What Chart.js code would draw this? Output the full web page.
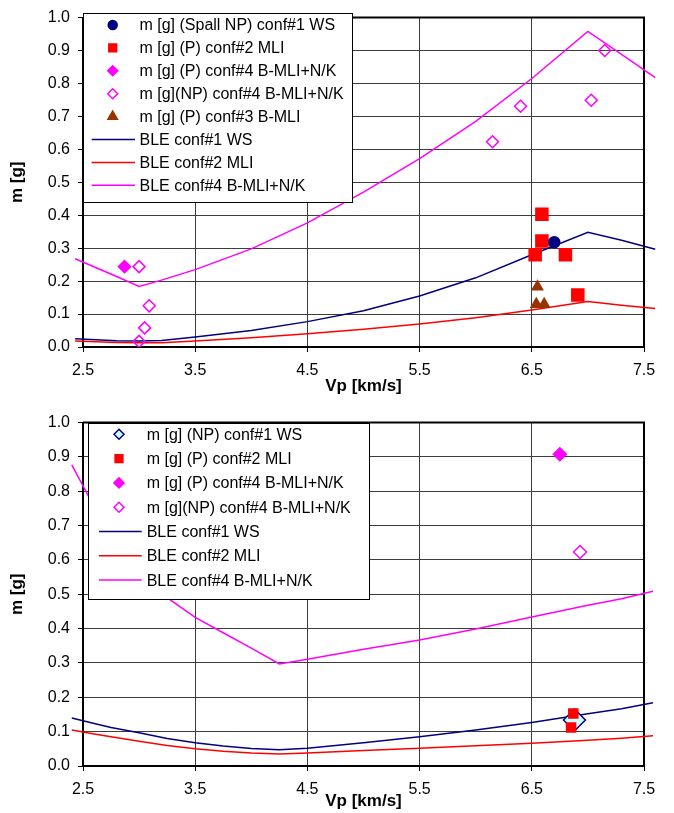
<!DOCTYPE html>
<html>
<head>
<meta charset="utf-8">
<script src="https://cdn.jsdelivr.net/npm/chart.js@4.4.0/dist/chart.umd.min.js"></script>
<style>
  html, body { margin: 0; padding: 0; background: #fff; }
  #wrap { position: relative; width: 674px; height: 813px; }
  canvas { position: absolute; left: 0; }
  #top { top: 0; }
  #bottom { top: 405px; }
</style>
</head>
<body>
<div id="wrap">
  <canvas id="top" width="674" height="405"></canvas>
  <canvas id="bottom" width="674" height="408"></canvas>
</div>
<script>
const xTicks = [2.5, 3.5, 4.5, 5.5, 6.5, 7.5];
const yTicks = [0, 0.1, 0.2, 0.3, 0.4, 0.5, 0.6, 0.7, 0.8, 0.9, 1.0];

// upper chart - measured points
const topSpallVp = [6.70];
const topSpallM = [0.318];
const topMliVp = [6.59, 6.59, 6.53, 6.80, 6.91];
const topMliM = [0.403, 0.322, 0.280, 0.280, 0.158];
const topNkPVp = [2.87];
const topNkPM = [0.244];
const topNkNpVp = [3.00, 3.09, 3.05, 3.00, 6.15, 6.40, 7.03, 7.15];
const topNkNpM = [0.244, 0.125, 0.058, 0.017, 0.623, 0.731, 0.749, 0.900];
const topBmliVp = [6.55, 6.54, 6.61];
const topBmliM = [0.183, 0.130, 0.130];

// upper chart - ballistic limit curves (run a bit past both axis ends, like the original)
const topBleVp = [2.43, 2.8, 3.0, 3.2, 3.5, 4.0, 4.5, 5.0, 5.5, 6.0, 6.5, 7.0, 7.3, 7.6];
const topBleWs = [0.025, 0.019, 0.018, 0.020, 0.030, 0.050, 0.077, 0.110, 0.155, 0.210, 0.280, 0.348, 0.324, 0.297];
const topBleMli = [0.018, 0.014, 0.013, 0.013, 0.018, 0.028, 0.040, 0.054, 0.070, 0.089, 0.112, 0.138, 0.127, 0.117];
const topBleNk = [0.268, 0.214, 0.184, 0.203, 0.235, 0.298, 0.377, 0.470, 0.572, 0.685, 0.815, 0.958, 0.888, 0.818];

// lower chart - measured points
const botWsVp = [6.88];
const botWsM = [0.134];
const botMliVp = [6.87, 6.85];
const botMliM = [0.153, 0.112];
const botNkPVp = [6.75];
const botNkPM = [0.908];
const botNkNpVp = [6.93];
const botNkNpM = [0.623];

// lower chart - ballistic limit curves
const botBleVp = [2.4, 2.6, 2.75, 3.0, 3.25, 3.5, 3.75, 4.0, 4.25, 4.5, 5.0, 5.5, 6.0, 6.5, 7.0, 7.3, 7.58];
const botBleWs = [0.140, 0.124, 0.112, 0.097, 0.080, 0.068, 0.058, 0.051, 0.047, 0.052, 0.068, 0.085, 0.105, 0.127, 0.152, 0.167, 0.184];
const botBleMli = [0.105, 0.093, 0.085, 0.072, 0.060, 0.050, 0.043, 0.038, 0.035, 0.038, 0.045, 0.052, 0.059, 0.066, 0.075, 0.081, 0.088];
const botBleNk = [0.877, 0.755, 0.690, 0.585, 0.490, 0.433, 0.388, 0.343, 0.297, 0.311, 0.340, 0.367, 0.399, 0.434, 0.468, 0.487, 0.509];

const NAVY = '#000080', RED = '#ff0000', MAGENTA = '#ff00ff', BROWN = '#993300';
const FONT = 'Liberation Sans, Arial, sans-serif';

function pairs(xs, ys) {
  return xs.map((x, i) => ({ x: x, y: ys[i] }));
}

function pointSet(label, xs, ys, style, radius, fill, border) {
  return {
    label: label,
    data: pairs(xs, ys),
    showLine: false,
    pointStyle: style,
    pointRadius: radius,
    pointHoverRadius: radius,
    pointBackgroundColor: fill,
    pointBorderColor: border,
    pointBorderWidth: 1.5,
    backgroundColor: fill,
    borderColor: border,
    borderWidth: 1.5
  };
}

function lineSet(label, xs, ys, color) {
  return {
    label: label,
    data: pairs(xs, ys),
    showLine: true,
    borderColor: color,
    backgroundColor: color,
    borderWidth: 1.5,
    pointRadius: 0,
    pointHoverRadius: 0,
    tension: 0,
    clip: false
  };
}

// top and right edges of the plot box
const frame = {
  id: 'frame',
  beforeDatasetsDraw(chart) {
    const { ctx, chartArea: a } = chart;
    ctx.save();
    ctx.strokeStyle = '#000';
    ctx.lineWidth = 2;
    ctx.beginPath();
    ctx.moveTo(a.left, a.top);
    ctx.lineTo(a.right, a.top);
    ctx.lineTo(a.right, a.bottom);
    ctx.stroke();
    ctx.restore();
  }
};

// excel-like legend box sitting inside the plot
function boxLegend(cfg) {
  return {
    id: 'boxLegend',
    afterDraw(chart) {
      const ctx = chart.ctx;
      const [bx, by, bw, bh] = cfg.box;
      ctx.save();
      ctx.fillStyle = '#fff';
      ctx.fillRect(bx, by, bw, bh);
      ctx.strokeStyle = '#000';
      ctx.lineWidth = 1;
      ctx.strokeRect(bx + 0.5, by + 0.5, bw, bh);
      ctx.font = '16px ' + FONT;
      ctx.textBaseline = 'middle';
      ctx.textAlign = 'left';
      cfg.items.forEach((item, i) => {
        const ds = chart.data.datasets[item.ds];
        const y = cfg.firstRow + i * cfg.rowH;
        if (ds.showLine) {
          ctx.strokeStyle = ds.borderColor;
          ctx.lineWidth = 1.5;
          ctx.beginPath();
          ctx.moveTo(cfg.lineX[0], y);
          ctx.lineTo(cfg.lineX[1], y);
          ctx.stroke();
        } else {
          ctx.fillStyle = ds.pointBackgroundColor;
          ctx.strokeStyle = ds.pointBorderColor;
          ctx.lineWidth = 1.5;
          Chart.helpers.drawPoint(ctx, {
            pointStyle: ds.pointStyle,
            radius: item.r,
            borderWidth: 1.5,
            rotation: 0
          }, cfg.markerX, y);
        }
        ctx.fillStyle = '#000';
        ctx.fillText(item.text, cfg.textX, y + 1);
      });
      ctx.restore();
    }
  };
}

function makeScales(xAxisH, xTitlePad) {
  return {
    x: {
      type: 'linear',
      min: 2.5,
      max: 7.5,
      afterBuildTicks: s => { s.ticks = xTicks.map(v => ({ value: v })); },
      afterFit: s => { s.height = xAxisH; },
      ticks: {
        callback: v => v.toFixed(1),
        color: '#000',
        font: { family: FONT, size: 16 },
        padding: 9,
        maxRotation: 0,
        autoSkip: false
      },
      grid: { color: '#3c3c3c', lineWidth: 1, tickLength: 5, tickColor: '#000' },
      border: { color: '#000', width: 2 },
      title: {
        display: true,
        text: 'Vp [km/s]',
        color: '#000',
        font: { family: FONT, size: 17, weight: 'bold' },
        padding: { top: 0, bottom: xTitlePad }
      }
    },
    y: {
      type: 'linear',
      min: 0,
      max: 1,
      afterBuildTicks: s => { s.ticks = yTicks.map(v => ({ value: v })); },
      afterFit: s => { s.width = 83; },
      ticks: {
        callback: v => v.toFixed(1),
        color: '#000',
        font: { family: FONT, size: 16 },
        padding: 8,
        autoSkip: false
      },
      grid: { color: '#3c3c3c', lineWidth: 1, tickLength: 5, tickColor: '#000' },
      border: { color: '#000', width: 2 },
      title: {
        display: true,
        text: 'm [g]',
        color: '#000',
        font: { family: FONT, size: 17, weight: 'bold' },
        padding: { top: 7, bottom: 0 }
      }
    }
  };
}

const baseOptions = (xAxisH, xTitlePad, topPad) => ({
  responsive: false,
  animation: false,
  events: [],
  devicePixelRatio: 1,
  layout: { padding: { top: topPad, right: 30, left: 0, bottom: 0 } },
  plugins: { legend: { display: false }, tooltip: { enabled: false } },
  scales: makeScales(xAxisH, xTitlePad)
});

// upper chart: points first so they sit over the curves
new Chart(document.getElementById('top'), {
  type: 'scatter',
  data: {
    datasets: [
      pointSet('m [g] (Spall NP) conf#1 WS', topSpallVp, topSpallM, 'circle', 5.5, NAVY, NAVY),
      pointSet('m [g] (P) conf#2 MLI', topMliVp, topMliM, 'rect', 8.5, RED, RED),
      pointSet('m [g] (P) conf#4 B-MLI+N/K', topNkPVp, topNkPM, 'rectRot', 6, MAGENTA, MAGENTA),
      pointSet('m [g](NP) conf#4 B-MLI+N/K', topNkNpVp, topNkNpM, 'rectRot', 6, 'rgba(0,0,0,0)', MAGENTA),
      pointSet('m [g] (P) conf#3 B-MLI', topBmliVp, topBmliM, 'triangle', 6, BROWN, BROWN),
      lineSet('BLE conf#1 WS', topBleVp, topBleWs, NAVY),
      lineSet('BLE conf#2 MLI', topBleVp, topBleMli, RED),
      lineSet('BLE conf#4 B-MLI+N/K', topBleVp, topBleNk, MAGENTA)
    ]
  },
  options: baseOptions(58, 8, 7),
  plugins: [frame, boxLegend({
    box: [83, 13, 269, 189],
    firstRow: 25,
    rowH: 22.9,
    markerX: 112.7,
    lineX: [91.7, 135],
    textX: 139.5,
    items: [
      { ds: 0, r: 4.5, text: 'm [g] (Spall NP) conf#1 WS' },
      { ds: 1, r: 5.5, text: 'm [g] (P) conf#2 MLI' },
      { ds: 2, r: 5, text: 'm [g] (P) conf#4 B-MLI+N/K' },
      { ds: 3, r: 5, text: 'm [g](NP) conf#4 B-MLI+N/K' },
      { ds: 4, r: 5.5, text: 'm [g] (P) conf#3 B-MLI' },
      { ds: 5, text: 'BLE conf#1 WS' },
      { ds: 6, text: 'BLE conf#2 MLI' },
      { ds: 7, text: 'BLE conf#4 B-MLI+N/K' }
    ]
  })]
});

// lower chart
new Chart(document.getElementById('bottom'), {
  type: 'scatter',
  data: {
    datasets: [
      pointSet('m [g] (P) conf#2 MLI', botMliVp, botMliM, 'rect', 6.4, RED, RED),
      pointSet('m [g] (NP) conf#1 WS', botWsVp, botWsM, 'rectRot', 11, '#ccffff', NAVY),
      pointSet('m [g] (P) conf#4 B-MLI+N/K', botNkPVp, botNkPM, 'rectRot', 6.5, MAGENTA, MAGENTA),
      pointSet('m [g](NP) conf#4 B-MLI+N/K', botNkNpVp, botNkNpM, 'rectRot', 6.5, 'rgba(0,0,0,0)', MAGENTA),
      lineSet('BLE conf#1 WS', botBleVp, botBleWs, NAVY),
      lineSet('BLE conf#2 MLI', botBleVp, botBleMli, RED),
      lineSet('BLE conf#4 B-MLI+N/K', botBleVp, botBleNk, MAGENTA)
    ]
  },
  options: baseOptions(47, 1, 9),
  plugins: [frame, boxLegend({
    box: [88, 18, 281, 176],
    firstRow: 29.3,
    rowH: 24.3,
    markerX: 119,
    lineX: [99, 141.7],
    textX: 146.7,
    items: [
      { ds: 1, r: 5, text: 'm [g] (NP) conf#1 WS' },
      { ds: 0, r: 5.5, text: 'm [g] (P) conf#2 MLI' },
      { ds: 2, r: 5, text: 'm [g] (P) conf#4 B-MLI+N/K' },
      { ds: 3, r: 5, text: 'm [g](NP) conf#4 B-MLI+N/K' },
      { ds: 4, text: 'BLE conf#1 WS' },
      { ds: 5, text: 'BLE conf#2 MLI' },
      { ds: 6, text: 'BLE conf#4 B-MLI+N/K' }
    ]
  })]
});
</script>
</body>
</html>
